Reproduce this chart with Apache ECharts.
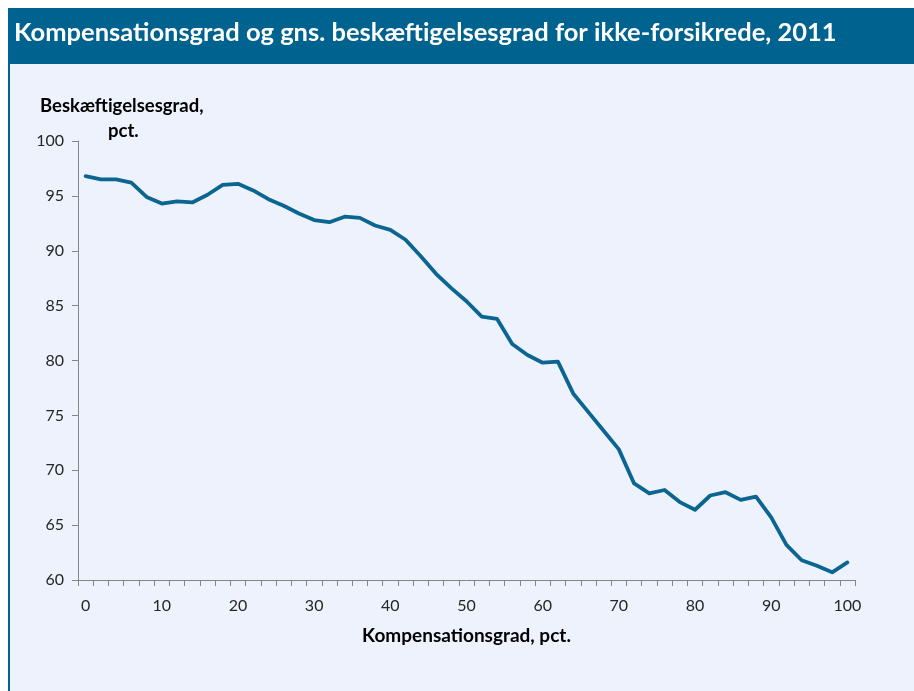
<!DOCTYPE html>
<html>
<head>
<meta charset="utf-8">
<script src="https://cdn.jsdelivr.net/npm/echarts@6/dist/echarts.min.js"></script>
<style>
html,body{margin:0;padding:0;background:#ffffff;}
#chart{width:914px;height:691px;}
</style>
</head>
<body>
<div id="chart"></div>
<script>
const titleText = 'Kompensationsgrad og gns. beskæftigelsesgrad for ikke-forsikrede, 2011';
const yAxisTitle = ['Beskæftigelsesgrad,', 'pct.'];
const xAxisTitle = 'Kompensationsgrad, pct.';
const categories = ['0','2','4','6','8','10','12','14','16','18','20','22','24','26','28','30','32','34','36','38','40','42','44','46','48','50','52','54','56','58','60','62','64','66','68','70','72','74','76','78','80','82','84','86','88','90','92','94','96','98','100'];
const employment = [96.8,96.5,96.5,96.2,94.9,94.3,94.5,94.4,95.1,96.0,96.1,95.5,94.7,94.1,93.4,92.8,92.6,93.1,93.0,92.3,91.9,91.0,89.5,87.9,86.6,85.4,84.0,83.8,81.5,80.5,79.8,79.9,77.0,75.3,73.6,71.9,68.8,67.9,68.2,67.1,66.4,67.7,68.0,67.3,67.6,65.7,63.2,61.8,61.3,60.7,61.6];
const yMin = 60, yMax = 100, yStep = 5;

const chart = echarts.init(document.getElementById('chart'), null, {renderer:'canvas'});
const font = 'Lato, "Open Sans", sans-serif';
chart.setOption({
  animation:false,
  backgroundColor:'#ffffff',
  graphic:[
    {type:'rect', z:-10, shape:{x:8, y:8, width:906, height:683}, style:{fill:'#00628e'}},
    {type:'rect', z:-9, shape:{x:10, y:64, width:904, height:627}, style:{fill:'#eef2fd'}},
    {type:'text', left:14, top:20, style:{text:titleText, fill:'#ffffff', font:'bold 25.5px ' + font}},
    {type:'text', left:40, top:97, style:{text:yAxisTitle[0], fill:'#000000', font:'bold 18.5px ' + font}},
    {type:'text', left:108, top:122, style:{text:yAxisTitle[1], fill:'#000000', font:'bold 18.5px ' + font}}
  ],
  grid:{left:78, right:59, top:141, bottom:111, containLabel:false},
  xAxis:{
    type:'category',
    data:categories,
    boundaryGap:true,
    name:xAxisTitle,
    nameLocation:'middle',
    nameGap:46,
    nameTextStyle:{color:'#000000', fontWeight:'bold', fontSize:19, fontFamily:font},
    axisLine:{show:true, lineStyle:{color:'#868686', width:1}},
    axisTick:{show:true, interval:0, length:6, lineStyle:{color:'#868686'}},
    axisLabel:{interval:4, color:'#262626', fontSize:16, fontFamily:font, margin:18},
    splitLine:{show:false}
  },
  yAxis:{
    type:'value',
    min:yMin, max:yMax, interval:yStep,
    axisLine:{show:true, lineStyle:{color:'#868686', width:1}},
    axisTick:{show:true, length:6, lineStyle:{color:'#868686'}},
    axisLabel:{color:'#262626', fontSize:16, fontFamily:font, margin:14},
    splitLine:{show:false}
  },
  series:[{
    type:'line',
    data:employment,
    symbol:'none',
    smooth:false,
    lineStyle:{color:'#0a6591', width:3.8, cap:'round', join:'round'}
  }]
});
</script>
</body>
</html>
